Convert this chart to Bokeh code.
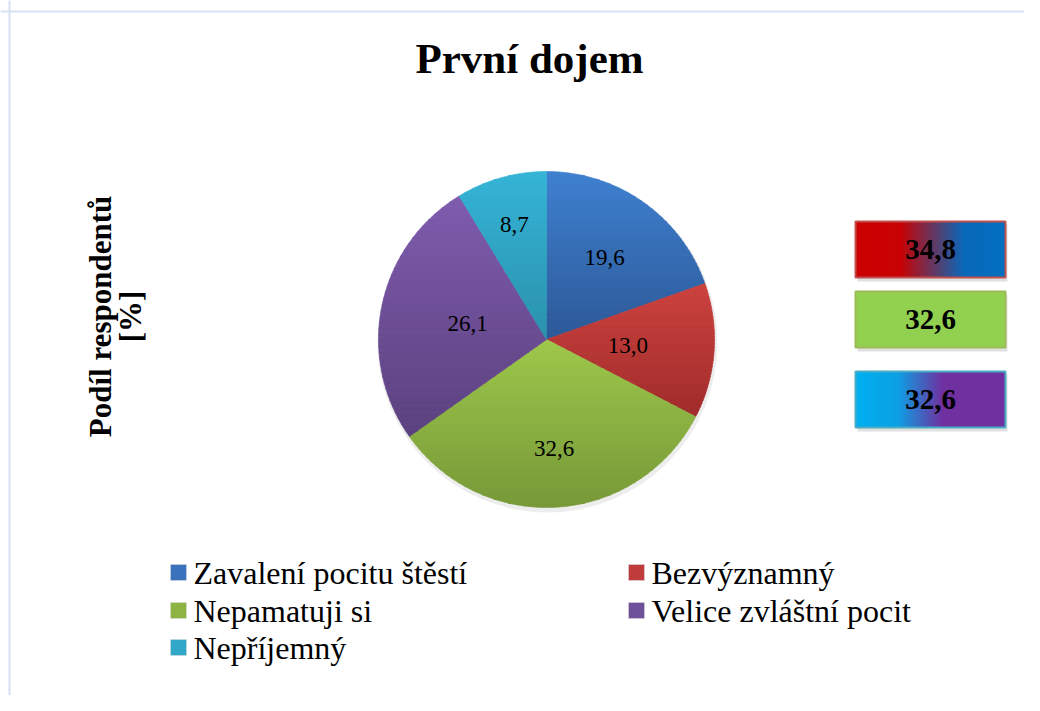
import math
from bokeh.plotting import figure
from bokeh.models import Range1d, Span
from bokeh.core.properties import value
from bokeh.embed import file_html
from bokeh.resources import INLINE

# ---------------- data ----------------
categories = ["Zavalení pocitu štěstí", "Bezvýznamný", "Nepamatuji si",
              "Velice zvláštní pocit", "Nepříjemný"]
shares = [19.6, 13.0, 32.6, 26.1, 8.7]
share_labels = ["19,6", "13,0", "32,6", "26,1", "8,7"]
box_labels = ["34,8", "32,6", "32,6"]
title_text = "První dojem"
ylabel_lines = ["Podíl respondentů", "[%]"]

# ---------------- styles / layout ----------------
W, H = 1024, 695
FONT = "Liberation Serif"
slice_top = ["#3F80D0", "#CC423F", "#9DC84B", "#7F5CAE", "#35B4D7"]
slice_bot = ["#2C5997", "#A02C2B", "#779838", "#5B417E", "#2A91AC"]
legend_col = ["#3A72BC", "#C03C3A", "#8DB443", "#6E5199", "#31A8C8"]
label_rfrac = [0.60, 0.485, 0.65, 0.48, 0.71]
box_stops = [
    [(0.0, "#CC0000"), (0.30, "#C80203"), (0.72, "#0A68B9"), (1.0, "#0070C0")],
    [(0.0, "#92D050"), (1.0, "#92D050")],
    [(0.0, "#00B0F0"), (0.28, "#0CA0E4"), (0.58, "#7030A0"), (1.0, "#7030A0")],
]
box_border = ["#C0504D", "#9BBB59", "#4BACC6"]


def fx(ix):  # image x -> figure x
    return ix


def fy(iy):  # image y -> figure y (bottom-up)
    return H - iy


def hex2rgb(h):
    h = h.lstrip("#")
    return tuple(int(h[i:i + 2], 16) for i in (0, 2, 4))


def lerp_col(c0, c1, t):
    a, b = hex2rgb(c0), hex2rgb(c1)
    return "#%02x%02x%02x" % tuple(int(round(a[i] + (b[i] - a[i]) * t)) for i in range(3))


def stop_col(stops, t):
    for (t0, c0), (t1, c1) in zip(stops[:-1], stops[1:]):
        if t <= t1:
            return lerp_col(c0, c1, 0 if t1 == t0 else (t - t0) / (t1 - t0))
    return stops[-1][1]


def clip(poly, yc, keep_above):
    out = []
    n = len(poly)
    for i in range(n):
        p1 = poly[i]
        p2 = poly[(i + 1) % n]
        in1 = (p1[1] >= yc) if keep_above else (p1[1] <= yc)
        in2 = (p2[1] >= yc) if keep_above else (p2[1] <= yc)
        if in1:
            out.append(p1)
        if in1 != in2:
            t = (yc - p1[1]) / (p2[1] - p1[1])
            out.append((p1[0] + t * (p2[0] - p1[0]), yc))
    return out


p = figure(width=W, height=H, output_backend="svg", toolbar_location=None,
           x_range=Range1d(0, W), y_range=Range1d(0, H),
           x_axis_type=None, y_axis_type=None, min_border=0)
p.grid.visible = False
p.outline_line_color = None
p.background_fill_color = "white"

# chart frame (top and left edge visible)
p.add_layout(Span(location=fy(11), dimension="width", line_color="#D5E2F3", line_width=2))
p.add_layout(Span(location=fx(9), dimension="height", line_color="#D5E2F3", line_width=2))

# title
p.text(x=[fx(529)], y=[fy(58)], text=[title_text], text_font=value(FONT),
       text_font_size="43px", text_font_style="bold", text_align="center",
       text_baseline="middle", text_color="black")

# y label (rotated, two lines)
p.text(x=[fx(100), fx(130)], y=[fy(316), fy(316)], text=ylabel_lines,
       text_font=value(FONT), text_font_size="31px", text_font_style="bold",
       text_align="center", text_baseline="middle", angle=math.pi / 2,
       text_color="black")

# ---------------- pie ----------------
cx, cy, R = fx(546), fy(339), 168
total = sum(shares)
# soft shadow
p.circle(x=[cx + 1], y=[cy - 3], radius=R + 2, fill_color="black", fill_alpha=0.07,
         line_color=None)

xs_all, ys_all, cols_all = [], [], []
cum = 0.0
mids = []
for i, v in enumerate(shares):
    a0 = math.pi / 2 - 2 * math.pi * cum / total
    a1 = math.pi / 2 - 2 * math.pi * (cum + v) / total
    mids.append((a0 + a1) / 2)
    cum += v
    nseg = max(8, int(abs(a1 - a0) * 80))
    poly = [(cx, cy)] + [(cx + R * math.cos(a0 + (a1 - a0) * k / nseg),
                          cy + R * math.sin(a0 + (a1 - a0) * k / nseg)) for k in range(nseg + 1)]
    ymin = min(q[1] for q in poly)
    ymax = max(q[1] for q in poly)
    nb = 40
    for b in range(nb):
        ylo = ymin + (ymax - ymin) * b / nb
        yhi = ymin + (ymax - ymin) * (b + 1) / nb
        band = clip(clip(poly, ylo - 0.3, True), yhi + 0.3, False)
        if len(band) < 3:
            continue
        t = 1 - (b + 0.5) / nb
        xs_all.append([q[0] for q in band])
        ys_all.append([q[1] for q in band])
        cols_all.append(lerp_col(slice_top[i], slice_bot[i], t))

p.patches(xs=xs_all, ys=ys_all, fill_color=cols_all, line_color=cols_all, line_width=0.6)

lx = [cx + R * f * math.cos(m) for f, m in zip(label_rfrac, mids)]
ly = [cy + R * f * math.sin(m) for f, m in zip(label_rfrac, mids)]
p.text(x=lx, y=ly, text=share_labels, text_font=value(FONT), text_font_size="23px",
       text_align="center", text_baseline="middle", text_color="black")

# ---------------- boxes on the right ----------------
box_x0, box_x1 = fx(855), fx(1005)
box_tops = [221, 291, 371]
box_h = 56
for j, lab in enumerate(box_labels):
    top = fy(box_tops[j])
    bot = top - box_h
    # shadow
    p.quad(left=[box_x0 + 2], right=[box_x1 + 2], top=[top - 3], bottom=[bot - 4],
           fill_color="#000000", fill_alpha=0.12, line_color=None)
    n = 75
    ls, cs = [], []
    for k in range(n):
        ls.append(box_x0 + (box_x1 - box_x0) * k / n)
        cs.append(stop_col(box_stops[j], (k + 0.5) / n))
    # each strip runs to the right edge; later strips cover earlier ones (no seams)
    p.quad(left=ls, right=box_x1, top=top, bottom=bot, fill_color=cs, line_color=None)
    p.quad(left=[box_x0], right=[box_x1], top=[top], bottom=[bot], fill_color=None,
           line_color=box_border[j], line_width=2)
    p.text(x=[(box_x0 + box_x1) / 2], y=[(top + bot) / 2], text=[lab],
           text_font=value(FONT), text_font_size="29px", text_font_style="bold",
           text_align="center", text_baseline="middle", text_color="black")

# ---------------- legend ----------------
leg_sq_x = [fx(178), fx(636), fx(178), fx(636), fx(178)]
leg_y = [fy(572), fy(572), fy(610), fy(610), fy(647)]
p.rect(x=leg_sq_x, y=leg_y, width=16, height=16, fill_color=legend_col,
       line_color="#DDDDDD", line_width=0.5)
p.text(x=[x + 15 for x in leg_sq_x], y=leg_y, text=categories, text_font=value(FONT),
       text_font_size="32px", text_align="left", text_baseline="middle",
       text_color="black")

open("out.html", "w").write(file_html(p, INLINE))
